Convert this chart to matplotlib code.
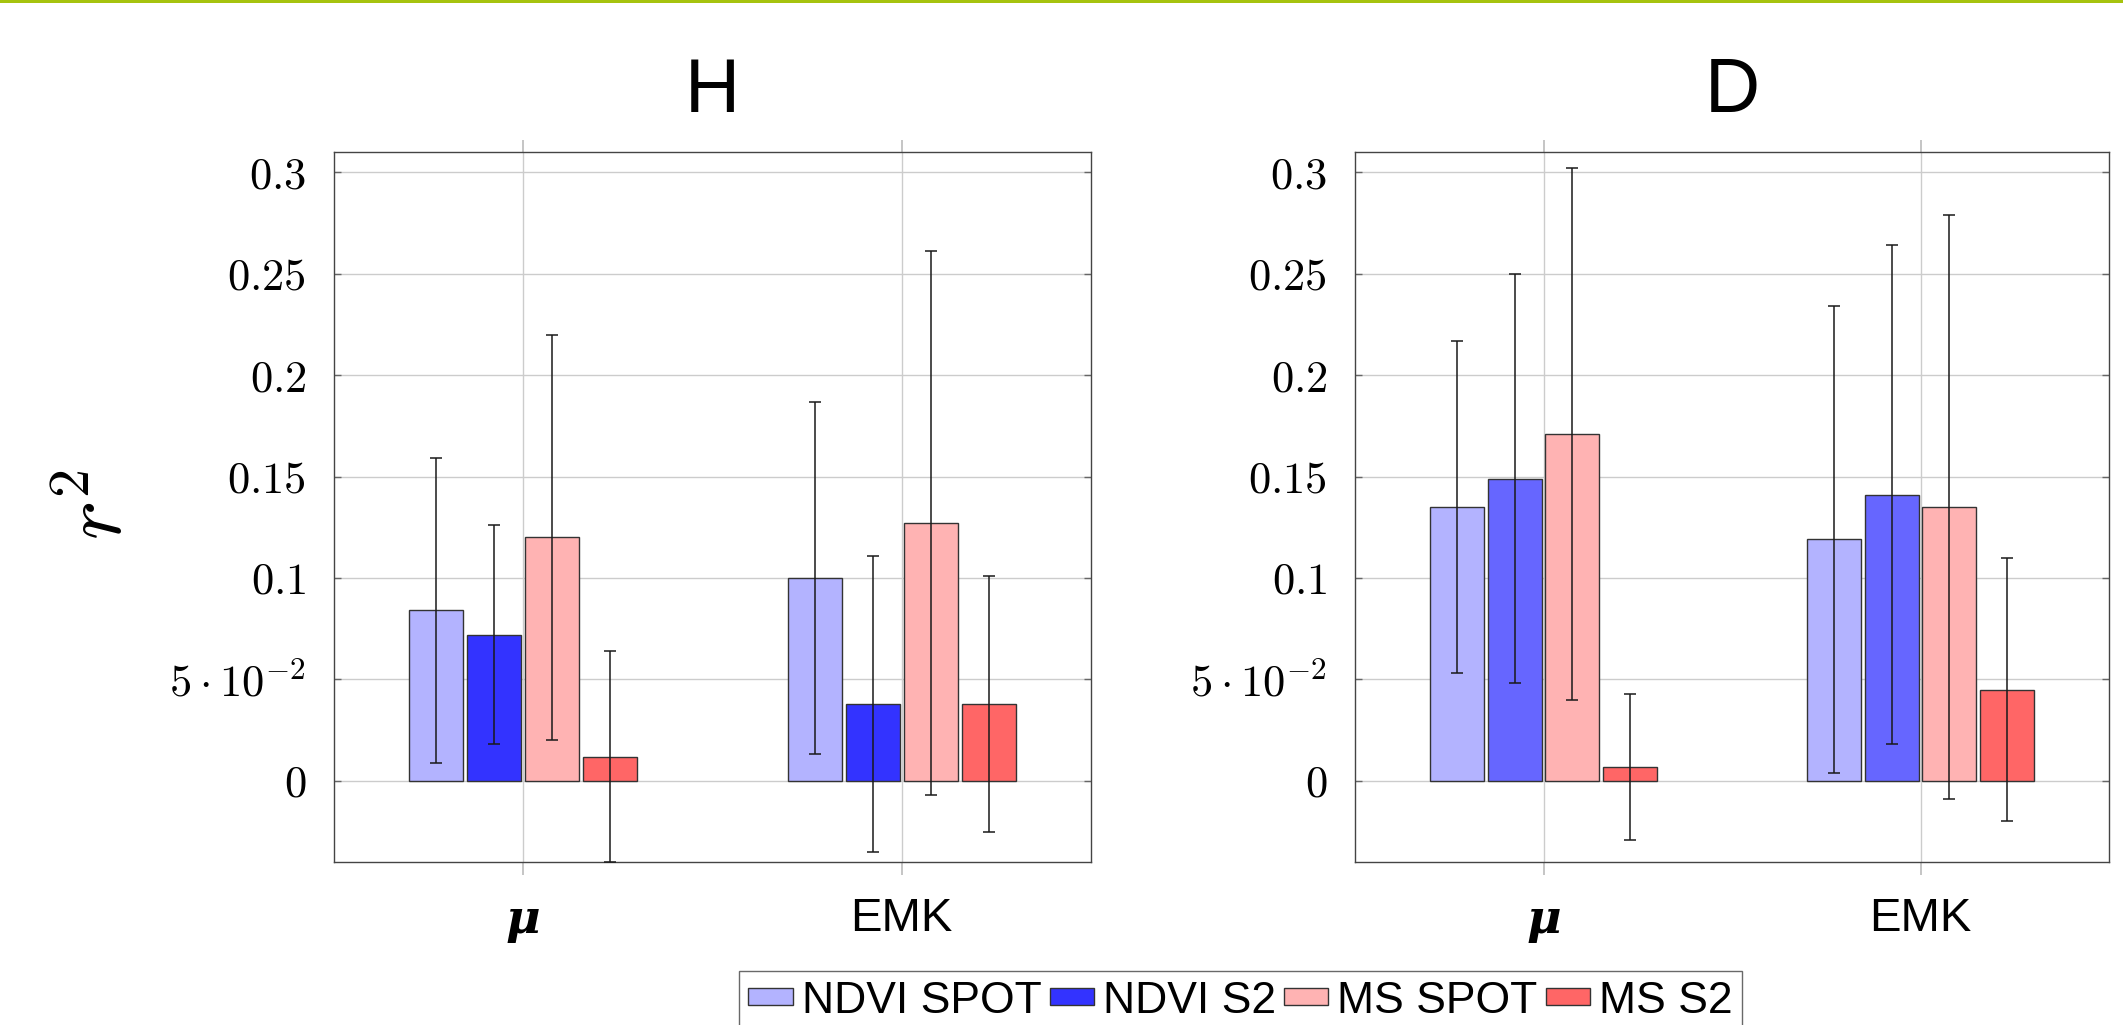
import matplotlib
matplotlib.use('Agg')
import matplotlib.pyplot as plt
from matplotlib.patches import Rectangle
import numpy as np

plt.rcParams['font.family'] = ['Liberation Sans', 'DejaVu Sans']
plt.rcParams['mathtext.fontset'] = 'cm'

#%% data
categories = ['μ', 'EMK']
series = ['NDVI SPOT', 'NDVI S2', 'MS SPOT', 'MS S2']

h_mean = [[0.084, 0.100], [0.072, 0.038], [0.120, 0.127], [0.012, 0.038]]
h_err = [[0.075, 0.087], [0.054, 0.073], [0.100, 0.134], [0.052, 0.063]]

d_mean = [[0.135, 0.119], [0.149, 0.141], [0.171, 0.135], [0.007, 0.045]]
d_err = [[0.082, 0.115], [0.101, 0.123], [0.131, 0.144], [0.036, 0.065]]

yticks = [0, 0.05, 0.1, 0.15, 0.2, 0.25, 0.3]
ytick_labels = [r'$0$', r'$5\cdot10^{-2}$', r'$0.1$', r'$0.15$', r'$0.2$', r'$0.25$', r'$0.3$']

h_colors = ['#b3b3ff', '#3333ff', '#ffb3b3', '#ff6666']
d_colors = ['#b3b3ff', '#6666ff', '#ffb3b3', '#ff6666']

W, H = 2123, 1025


def panel(ax, title, means, errs, colors):
    x = np.arange(len(categories))
    step, width = 0.153, 0.143
    bars = []
    for i, (m, e) in enumerate(zip(means, errs)):
        b = ax.bar(x + (i - 1.5) * step, m, width, color=colors[i], edgecolor='#333333',
                   linewidth=1.0, zorder=2, label=series[i])
        ax.errorbar(x + (i - 1.5) * step, m, yerr=e, fmt='none', ecolor='#1a1a1a',
                    elinewidth=1.1, capsize=4, capthick=1.1, zorder=3)
        bars.append(b)

    ax.set_xlim(-0.5, 1.5)
    ax.set_ylim(-0.04, 0.31)
    ax.set_xticks(x)
    ax.set_xticklabels(categories)
    ax.set_yticks(yticks)
    ax.set_yticklabels(ytick_labels, fontsize=32)
    ax.grid(True, color='#cccccc', linewidth=1.0, zorder=0)
    ax.set_axisbelow(True)

    ax.tick_params(axis='x', direction='out', length=9, width=1.2, color='#bbbbbb',
                   top=True, bottom=True, pad=16)
    ax.tick_params(axis='y', direction='in', length=5, width=1.0, color='#666666',
                   left=True, right=True, pad=20)
    for s in ax.spines.values():
        s.set_color('#444444')
        s.set_linewidth(1.0)

    lbls = ax.get_xticklabels()
    lbls[0].set_fontfamily('DejaVu Serif')
    lbls[0].set_fontstyle('italic')
    lbls[0].set_fontweight('bold')
    lbls[0].set_fontsize(34)
    lbls[1].set_fontsize(34)

    ax.text(0.5, 1 + 40 / 710, title, transform=ax.transAxes, ha='center',
            va='baseline', fontsize=55)
    return bars


fig = plt.figure(figsize=(W / 100, H / 100), dpi=100)
ax1 = fig.add_axes([334 / W, 1 - 862 / H, 757 / W, 710 / H])
ax2 = fig.add_axes([1355 / W, 1 - 862 / H, 754 / W, 710 / H])

bars = panel(ax1, 'H', h_mean, h_err, h_colors)
panel(ax2, 'D', d_mean, d_err, d_colors)

fig.text(100 / W, 1 - 504 / H, r'$r^2$', rotation=90, ha='center', va='center', fontsize=60)

# green band at the top
fig.patches.append(Rectangle((0, 1 - 3 / H), 1, 3 / H, transform=fig.transFigure,
                             facecolor='#a6c30e', edgecolor='none'))

leg = fig.legend(bars, series, loc='upper center', bbox_to_anchor=(0.5843, 1 - 971 / H),
                 ncol=4, fontsize=32, frameon=True, fancybox=False, borderaxespad=0,
                 handlelength=1.0, handleheight=0.22, handletextpad=0.2,
                 columnspacing=0.18, borderpad=0.22)
leg.get_frame().set_edgecolor('#444444')
leg.get_frame().set_linewidth(1.0)

fig.savefig('out.png', dpi=100)
